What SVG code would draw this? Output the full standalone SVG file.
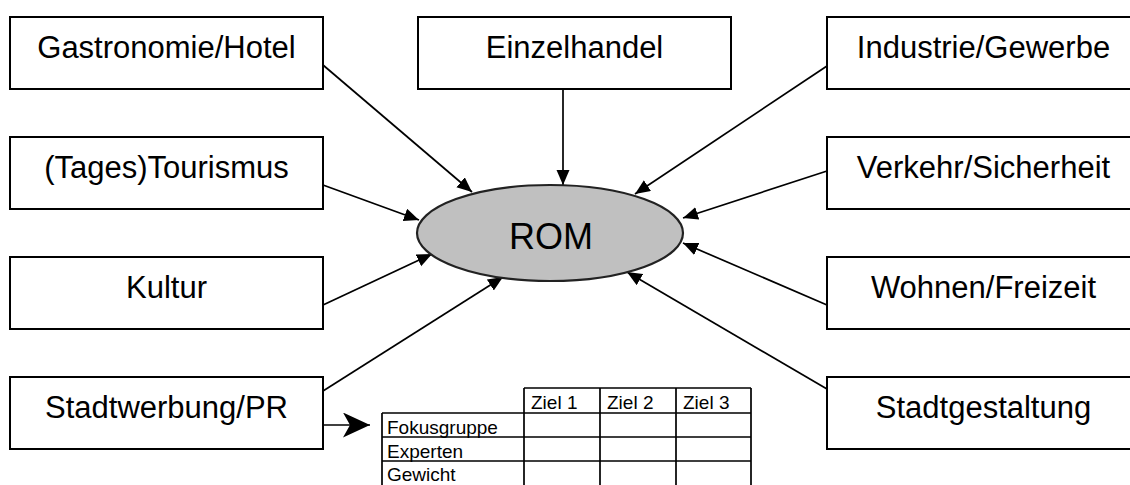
<svg xmlns="http://www.w3.org/2000/svg" width="1130" height="485" viewBox="0 0 1130 485">
<style>
.box{fill:#fff;stroke:#000;stroke-width:2}
.lbl{font-family:"Liberation Sans",Arial,sans-serif;font-size:31px;fill:#000;text-anchor:middle}
.con{stroke:#000;stroke-width:1.7;fill:none}
.tl{stroke:#000;stroke-width:1.7;fill:none}
.tt{font-family:"Liberation Sans",Arial,sans-serif;font-size:19px;fill:#000}
</style>
<defs>
<marker id="ah" markerUnits="userSpaceOnUse" markerWidth="16" markerHeight="14" refX="15" refY="6.5" orient="auto">
<path d="M0,0 L15,6.5 L0,13 z" fill="#000"/>
</marker>
<marker id="big" markerUnits="userSpaceOnUse" markerWidth="28" markerHeight="26" refX="27" refY="12.5" orient="auto">
<path d="M0,0 L27,12.5 L0,25 L7,12.5 z" fill="#000"/>
</marker>
</defs>
<g id="connectors">
<line class="con" x1="323" y1="65" x2="472" y2="192" marker-end="url(#ah)"/>
<line class="con" x1="563" y1="89" x2="563" y2="185" marker-end="url(#ah)"/>
<line class="con" x1="827" y1="66" x2="635" y2="194" marker-end="url(#ah)"/>
<line class="con" x1="323" y1="185" x2="419" y2="220" marker-end="url(#ah)"/>
<line class="con" x1="827" y1="171" x2="683" y2="218" marker-end="url(#ah)"/>
<line class="con" x1="323" y1="305" x2="432" y2="254" marker-end="url(#ah)"/>
<line class="con" x1="827" y1="305" x2="683" y2="243" marker-end="url(#ah)"/>
<line class="con" x1="323" y1="391" x2="503" y2="277" marker-end="url(#ah)"/>
<line class="con" x1="827" y1="389" x2="627" y2="272" marker-end="url(#ah)"/>
<line class="con" x1="323" y1="425" x2="370" y2="425" stroke-width="2" marker-end="url(#big)"/>
</g>
<g id="rom">
<ellipse cx="550" cy="233" rx="133" ry="48" fill="#c0c0c0" stroke="#222" stroke-width="2.2"/>
<text x="551" y="249" font-family="Liberation Sans,Arial,sans-serif" font-size="36" text-anchor="middle">ROM</text>
</g>
<g id="gastronomie"><rect class="box" x="10" y="17" width="313" height="72"/><text class="lbl" x="166.5" y="58">Gastronomie/Hotel</text></g>
<g id="einzelhandel"><rect class="box" x="418" y="17" width="313" height="72"/><text class="lbl" x="574.5" y="58">Einzelhandel</text></g>
<g id="industrie"><rect class="box" x="827" y="17" width="313" height="72"/><text class="lbl" x="983.5" y="58">Industrie/Gewerbe</text></g>
<g id="tourismus"><rect class="box" x="10" y="137" width="313" height="72"/><text class="lbl" x="166.5" y="178">(Tages)Tourismus</text></g>
<g id="verkehr"><rect class="box" x="827" y="137" width="313" height="72"/><text class="lbl" x="983.5" y="178">Verkehr/Sicherheit</text></g>
<g id="kultur"><rect class="box" x="10" y="257" width="313" height="72"/><text class="lbl" x="166.5" y="298">Kultur</text></g>
<g id="wohnen"><rect class="box" x="827" y="257" width="313" height="72"/><text class="lbl" x="983.5" y="298">Wohnen/Freizeit</text></g>
<g id="stadtwerbung"><rect class="box" x="10" y="377" width="313" height="72"/><text class="lbl" x="166.5" y="418">Stadtwerbung/PR</text></g>
<g id="stadtgestaltung"><rect class="box" x="827" y="377" width="313" height="72"/><text class="lbl" x="983.5" y="418">Stadtgestaltung</text></g>
<g id="table">
<path class="tl" d="M524,388 H751 M382,413 H751 M382,437 H751 M382,461 H751 M382,413 V490 M524,388 V490 M600,388 V490 M676,388 V490 M751,388 V490"/>
<text class="tt" x="531" y="409">Ziel 1</text>
<text class="tt" x="607" y="409">Ziel 2</text>
<text class="tt" x="683" y="409">Ziel 3</text>
<text class="tt" x="387" y="434">Fokusgruppe</text>
<text class="tt" x="387" y="458">Experten</text>
<text class="tt" x="387" y="481">Gewicht</text>
</g>
</svg>
